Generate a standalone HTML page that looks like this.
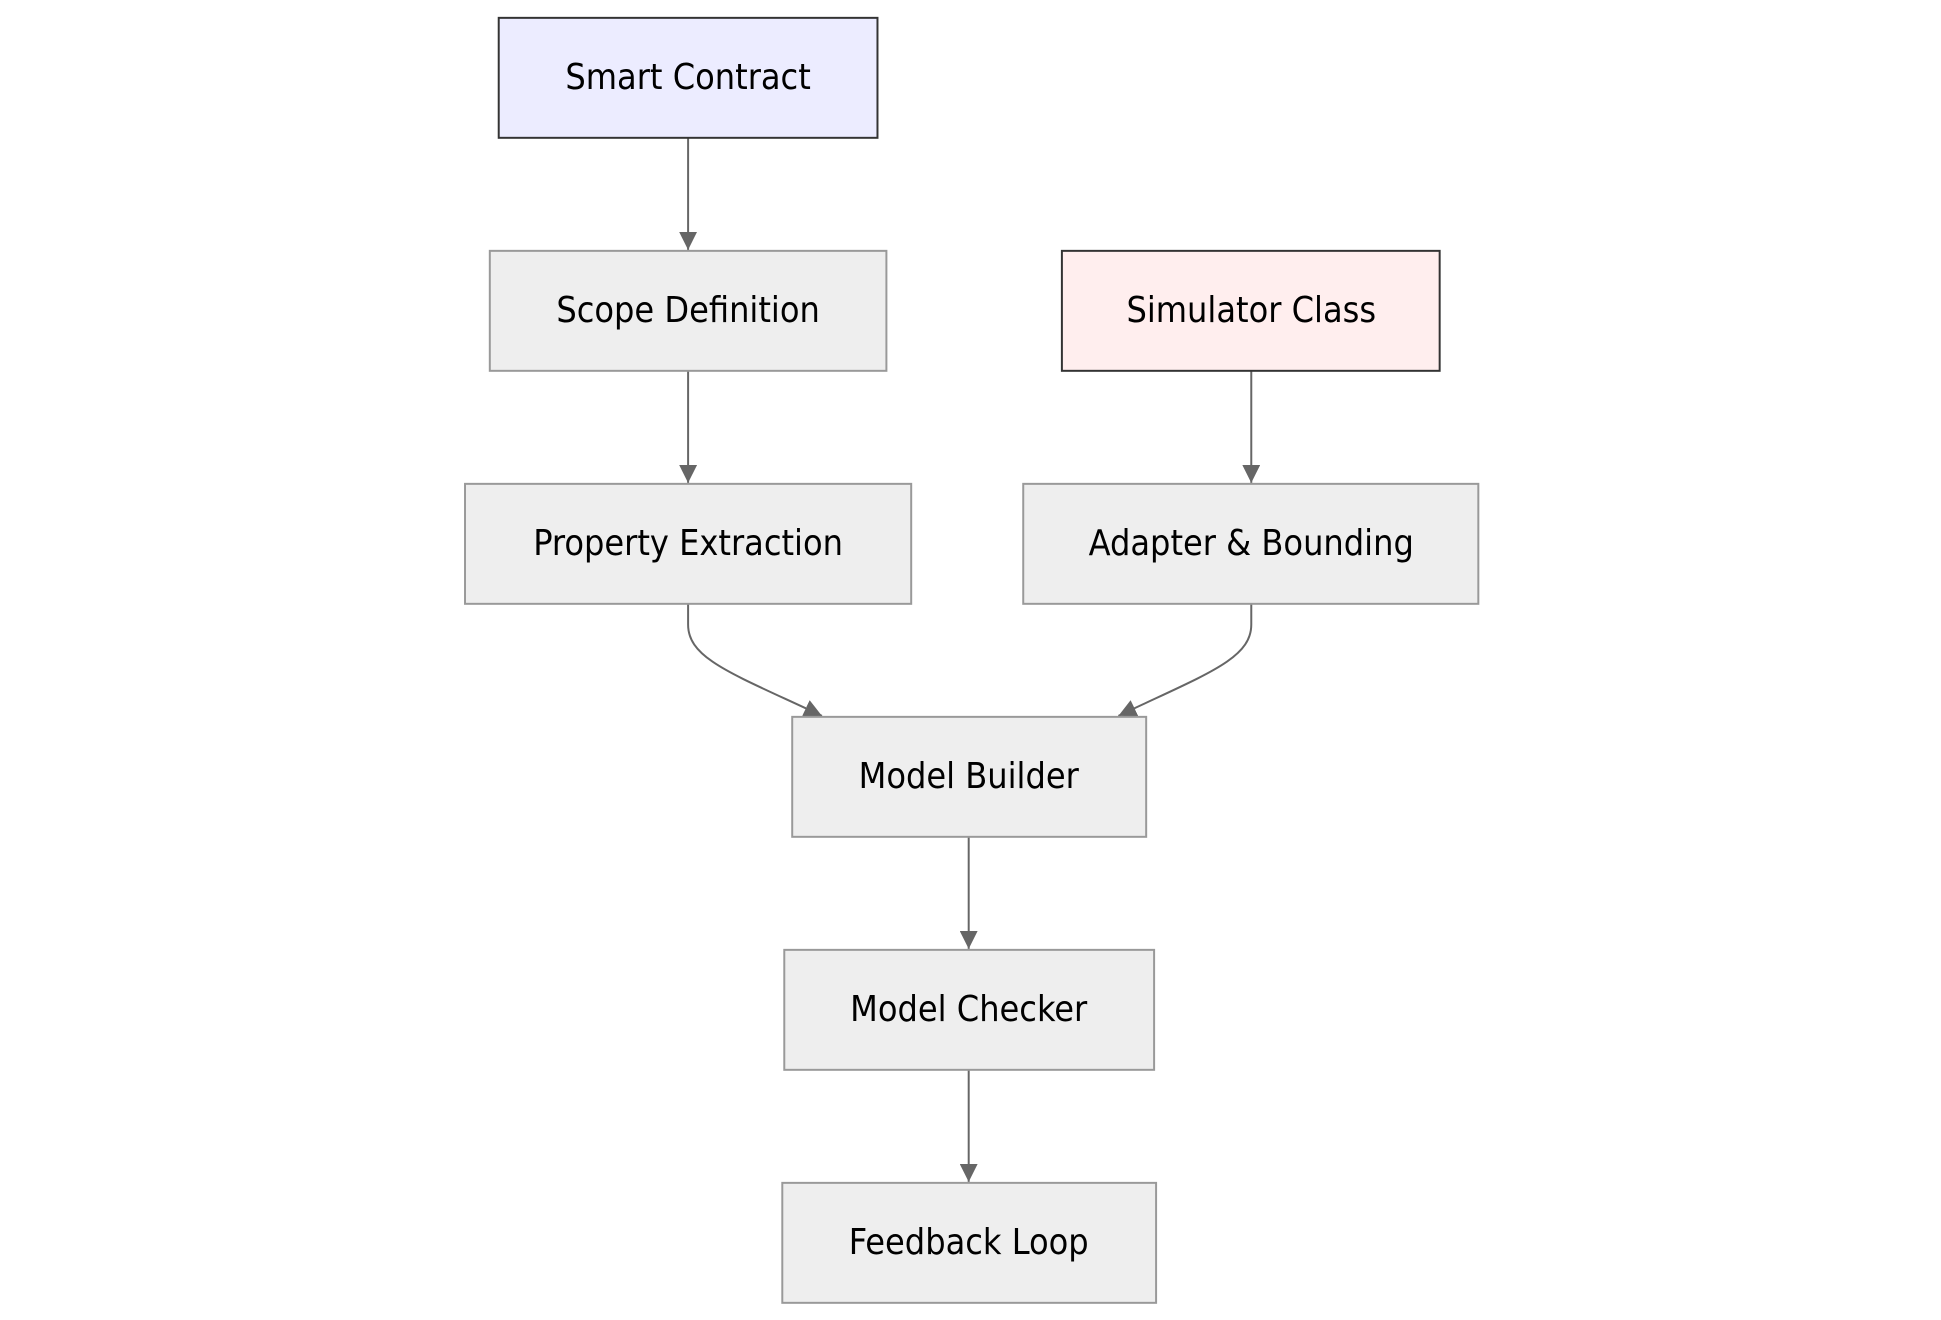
<!DOCTYPE html>
<html><head><meta charset="utf-8"><style>
html,body{margin:0;padding:0;background:#fff;width:1941px;height:1320px;overflow:hidden}
</style></head><body>
<svg width="1941" height="1320" xmlns="http://www.w3.org/2000/svg" font-family="'DejaVu Sans Condensed','DejaVu Sans',sans-serif" font-size="36">
<defs>
<marker id="b" viewBox="0 0 10 10" refX="10" refY="5" markerWidth="18" markerHeight="18" orient="auto" markerUnits="userSpaceOnUse"><path d="M0,0L10,5L0,10z" fill="#666"/></marker></defs>
<g transform="scale(0.9915)">
<g stroke="#666" stroke-width="2" fill="none">
<path d="M694 139V252" marker-end="url(#b)"/>
<path d="M694 374V487" marker-end="url(#b)"/>
<path d="M1262 374V487" marker-end="url(#b)"/>
<path d="M694 609V630C694 665 740 680 829 722" marker-end="url(#b)"/>
<path d="M1262 609V630C1262 665 1216 680 1128 722" marker-end="url(#b)"/>
<path d="M977 844V957" marker-end="url(#b)"/>
<path d="M977 1079V1192" marker-end="url(#b)"/>
</g>
<g stroke-width="2">
<rect x="503" y="18" width="382" height="121" fill="#ececff" stroke="#333"/>
<rect x="494" y="253" width="400" height="121" fill="#eee" stroke="#999"/>
<rect x="1071" y="253" width="381" height="121" fill="#ffeeee" stroke="#333"/>
<rect x="469" y="488" width="450" height="121" fill="#eee" stroke="#999"/>
<rect x="1032" y="488" width="459" height="121" fill="#eee" stroke="#999"/>
<rect x="799" y="723" width="357" height="121" fill="#eee" stroke="#999"/>
<rect x="791" y="958" width="373" height="121" fill="#eee" stroke="#999"/>
<rect x="789" y="1193" width="377" height="121" fill="#eee" stroke="#999"/>
</g>
<g text-anchor="middle" fill="#000">
<text x="694" y="90">Smart Contract</text>
<text x="694" y="325">Scope Definition</text>
<text x="1262" y="325">Simulator Class</text>
<text x="694" y="560">Property Extraction</text>
<text x="1262" y="560">Adapter &amp; Bounding</text>
<text x="977" y="795">Model Builder</text>
<text x="977" y="1030">Model Checker</text>
<text x="977" y="1265">Feedback Loop</text>
</g>
</g>
</svg>
</body></html>
